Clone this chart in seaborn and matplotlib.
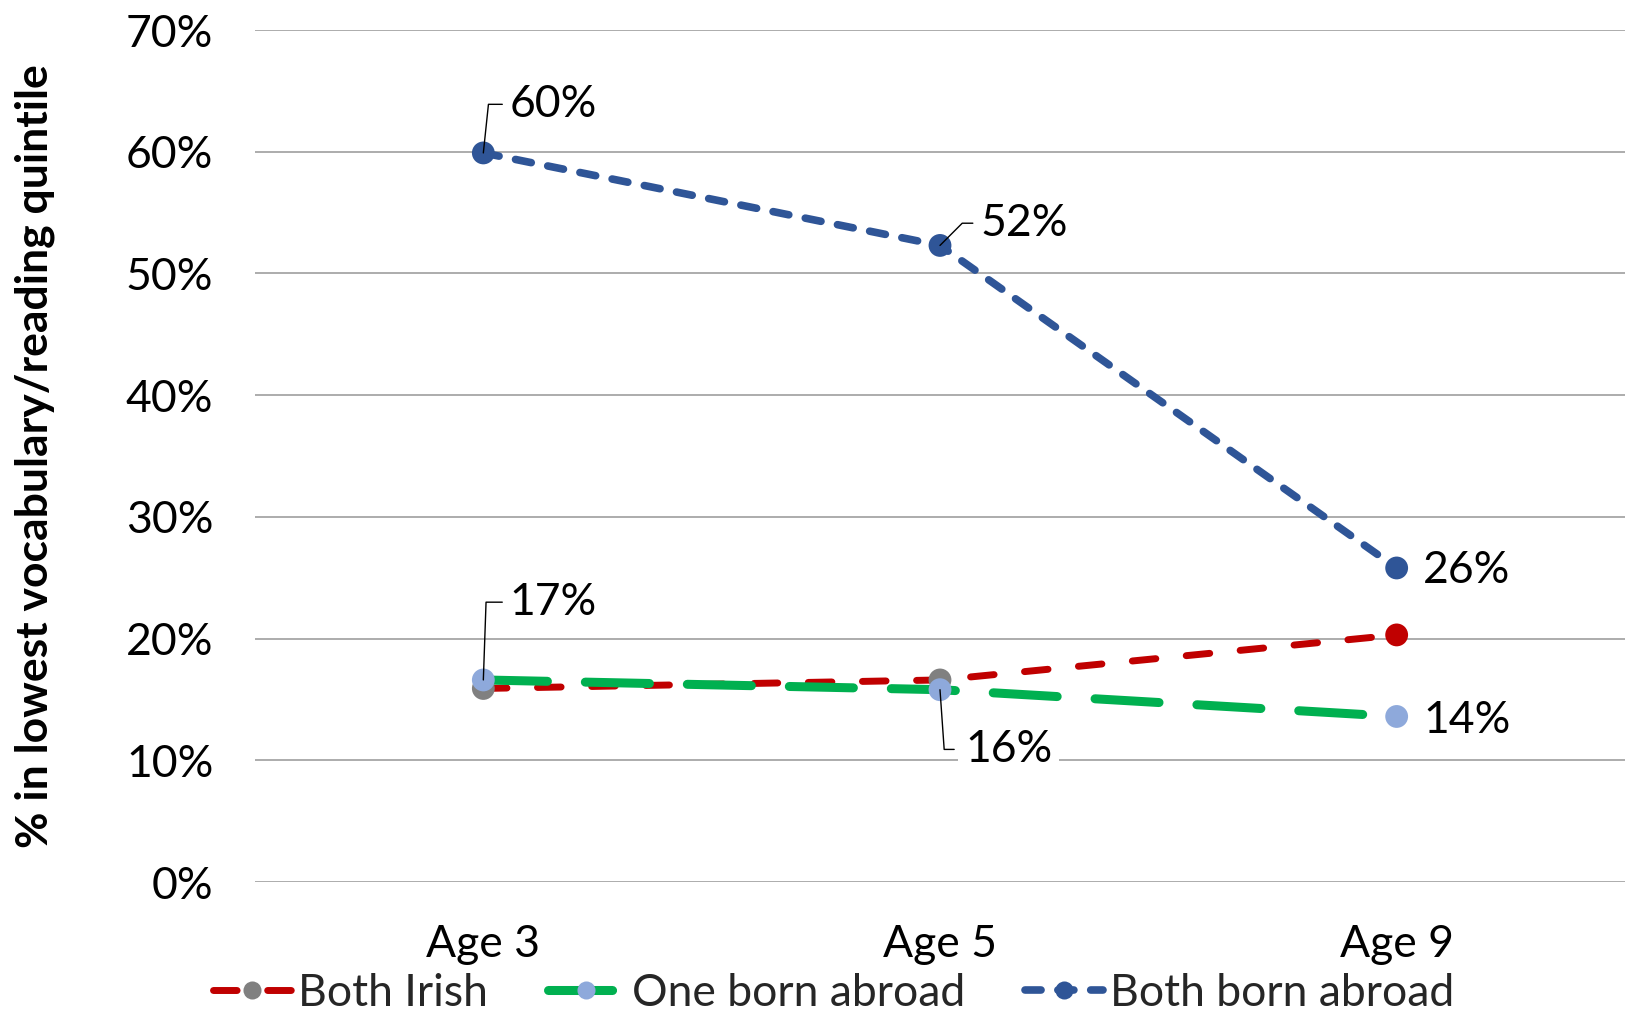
import matplotlib
matplotlib.use("Agg")
import matplotlib.pyplot as plt
from matplotlib.lines import Line2D
import seaborn as sns
import pandas as pd

# Data
ages = ["Age 3", "Age 5", "Age 9"]
both_irish = [15.9, 16.6, 20.3]
one_born_abroad = [16.6, 15.8, 13.6]
both_born_abroad = [59.9, 52.3, 25.8]
series_names = ["Both Irish", "One born abroad", "Both born abroad"]
yticks = [0, 10, 20, 30, 40, 50, 60, 70]

df = pd.DataFrame({
    "age": ages * 3,
    "value": both_irish + one_born_abroad + both_born_abroad,
    "series": [s for s in series_names for _ in ages],
})

sns.set_theme(style="white")
plt.rcParams["font.family"] = ["Lato", "DejaVu Sans"]

FS = 32
fig = plt.figure(figsize=(16.28, 10.13), dpi=100)
ax = fig.add_axes([255 / 1628, 1 - 882 / 1013, 1370 / 1628, 852 / 1013])

styles = {
    "Both Irish": dict(color="#C00000", lw=5.0, dashes=(3.4, 4.4), z=3),
    "One born abroad": dict(color="#00B050", lw=6.5, dashes=(7.1, 4.2), z=4),
    "Both born abroad": dict(color="#2F5597", lw=5.5, dashes=(2.1, 2.2), z=6),
}
marker_colors = {
    "Both Irish": ["#808080", "#808080", "#C00000"],
    "One born abroad": ["#8EA9DB", "#8EA9DB", "#8EA9DB"],
    "Both born abroad": ["#2F5597", "#2F5597", "#2F5597"],
}
marker_z = {"Both Irish": 5, "One born abroad": 5.5, "Both born abroad": 7}

for name in series_names:
    st = styles[name]
    sub = df[df["series"] == name]
    sns.lineplot(data=sub, x="age", y="value", ax=ax, color=st["color"],
                 linewidth=st["lw"], dashes=False, legend=False,
                 sort=False, zorder=st["z"])
    line = ax.lines[-1]
    line.set_dashes(st["dashes"])
    line.set_dash_capstyle("round")
    sns.scatterplot(data=sub, x="age", y="value", ax=ax,
                    c=marker_colors[name], s=270, linewidth=0,
                    legend=False, zorder=marker_z[name])

# Both Irish age-9 marker has a thin grey rim
ax.collections[0].set_edgecolor(["none", "none", "#A0A0A0"])
ax.collections[0].set_linewidth([0, 0, 1.2])

ax.set_xlim(-0.5, 2.5)
ax.set_ylim(0, 70)
ax.set_yticks(yticks)
ax.set_yticklabels([f"{v}%" for v in yticks])
ax.yaxis.grid(True, color="#A6A6A6", linewidth=1.3)
ax.xaxis.grid(False)
for sp in ["top", "right", "left", "bottom"]:
    ax.spines[sp].set_visible(False)
ax.tick_params(axis="y", length=0, pad=30, labelsize=FS, colors="black")
ax.tick_params(axis="x", length=0, pad=30, labelsize=FS, colors="black")
ax.set_xlabel("")
ax.set_ylabel("% in lowest vocabulary/reading quintile", fontsize=32,
              fontweight="bold", color="black")
ax.yaxis.set_label_coords(-0.161, 0.5)
ax.yaxis.label.set_va("center")


def pct(v):
    return f"{int(v + 0.5)}%"


# Data labels
def label(xi, yv, dx, dy, leader=False, box=False, angleB=84):
    kw = {}
    if leader:
        kw["arrowprops"] = dict(arrowstyle="-", color="black", lw=1.0,
                                shrinkA=3, shrinkB=0, relpos=(0, 0.5),
                                connectionstyle=f"angle,angleA=0,angleB={angleB},rad=0")
    bbox = dict(boxstyle="square,pad=0.15", fc="white", ec="none") if box else None
    ax.annotate(pct(yv), xy=(xi, yv), xytext=(dx, dy),
                textcoords="offset points", ha="left", va="center",
                fontsize=FS, color="black", bbox=bbox, zorder=10, **kw)


label(0, both_born_abroad[0], 19, 35, leader=True, angleB=84)
label(1, both_born_abroad[1], 29, 16, leader=True, angleB=45)
label(2, both_born_abroad[2], 19, -2)
label(0, one_born_abroad[0], 19, 56, leader=True, angleB=88)
label(1, one_born_abroad[1], 18, -43, leader=True, box=True, angleB=-86)
label(2, one_born_abroad[2], 19, -3)

# Legend
handles = []
for name in series_names:
    st = styles[name]
    mc = "#808080" if name == "Both Irish" else marker_colors[name][0]
    h = Line2D([0], [0], color=st["color"], lw=st["lw"], dashes=st["dashes"],
               dash_capstyle="round", marker="o", markersize=13,
               markerfacecolor=mc, markeredgewidth=0)
    handles.append(h)
fig.legend(handles, series_names, loc="lower center", ncol=3,
           bbox_to_anchor=(0.512, -0.04), frameon=False, fontsize=FS,
           handlelength=1.75, handletextpad=0.15, columnspacing=1.35,
           numpoints=1)

fig.savefig("out.png", dpi=100)
